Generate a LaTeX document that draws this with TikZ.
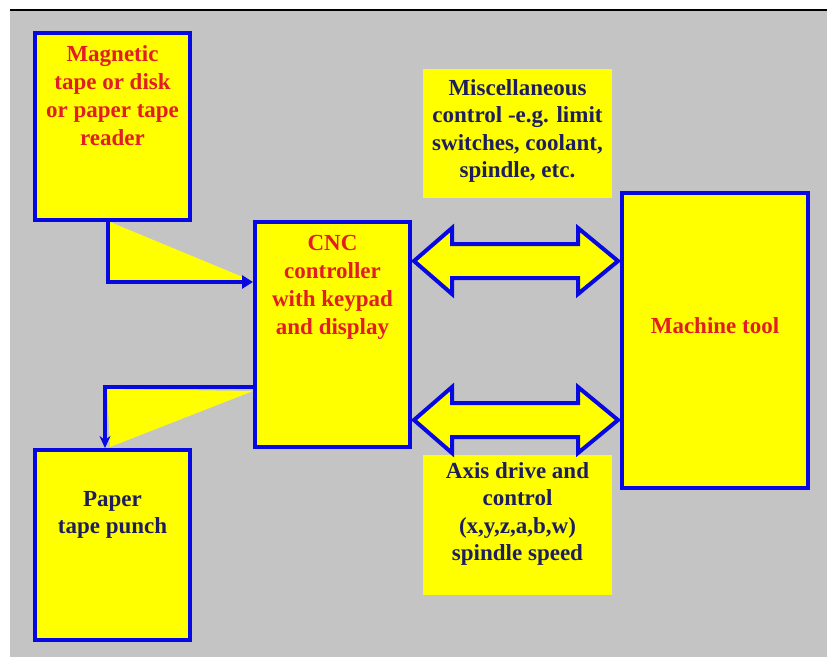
\documentclass[tikz,border=0pt]{standalone}
\usepackage{fontspec}
\setmainfont{Liberation Serif}
\usetikzlibrary{arrows.meta,positioning}
\definecolor{padyellow}{RGB}{255,255,0}
\definecolor{edgeblue}{RGB}{8,8,225}
\definecolor{txtred}{RGB}{225,30,35}
\definecolor{txtnavy}{RGB}{30,30,95}
\definecolor{slidegrey}{RGB}{196,196,196}
\tikzset{
  unitbox/.style={draw=edgeblue, line width=4pt, fill=padyellow, inner sep=0pt},
  notebox/.style={fill=padyellow, inner sep=0pt},
  redtxt/.style={text=txtred, font=\bfseries\fontsize{23}{28}\selectfont, align=center, inner sep=0pt, anchor=north},
  navytxt/.style={text=txtnavy, font=\bfseries\fontsize{23}{27.5}\selectfont, align=center, inner sep=0pt, anchor=north},
  link/.style={draw=edgeblue, line width=4pt},
  bigarrow/.style={draw=edgeblue, line width=4pt, fill=padyellow, line join=miter}
}
\begin{document}
\begin{tikzpicture}[x=1pt, y=-1pt]
  \useasboundingbox (0,0) rectangle (827,657);
  \fill[white] (0,0) rectangle (827,657);
  \fill[slidegrey] (10,11) rectangle (827,657);
  \draw[black, line width=2pt] (10,10) -- (827,10);
  % blocks
  \node[unitbox, minimum width=155pt, minimum height=187pt] (reader) at (112.5,126.5) {};
  \node[unitbox, minimum width=155pt, minimum height=225pt] (cnc) at (332.5,334.5) {};
  \node[unitbox, minimum width=155pt, minimum height=190pt] (punch) at (112.5,545) {};
  \node[unitbox, minimum width=186pt, minimum height=295pt] (machine) at (715,340.5) {};
  \node[notebox, minimum width=189pt, minimum height=129pt] (misc) at (517.5,133.5) {};
  \node[notebox, minimum width=189pt, minimum height=140pt] (axis) at (517.5,525) {};
  % texts
  \node[redtxt] (readertxt) at (112.5,45) {Magnetic\\tape or disk\\or paper tape\\reader};
  \node[redtxt] (cnctxt) at (332.5,235) {CNC\\controller\\with keypad\\and display};
  \node[redtxt] (machinetxt) at (715,317) {Machine tool};
  \node[navytxt] (punchtxt) at (112.5,491) {Paper\\tape punch};
  \node[navytxt] (misctxt) at (517.5,79) {Miscellaneous\\control -e.g. limit\\switches, coolant,\\spindle, etc.};
  \node[navytxt] (axistxt) at (517.5,462) {Axis drive and\\control\\(x,y,z,a,b,w)\\spindle speed};
  % connectors
  \coordinate (rdout) at (108,222);
  \coordinate (cncin) at (cnc.west |- 0,282);
  \coordinate (cncout) at (cnc.west |- 0,387);
  \coordinate (pnin) at (105,448);
  \fill[padyellow] (110,222) -- (110,280) -- (250,280) -- cycle;
  \fill[padyellow] (107,389) -- (253,391) -- (110,447) -- cycle;
  \draw[link, -{Triangle[length=11pt,width=13pt]}] (rdout) |- (cncin);
  \draw[link, -{Stealth[length=12pt,width=11pt]}] (cncout) -| (pnin);
  % double arrows
  \draw[bigarrow] (414,261) -- ++(38,-33) -- ++(0,16) -- ++(126,0) -- ++(0,-16) -- ++(40,33)
    -- ++(-40,33) -- ++(0,-16) -- ++(-126,0) -- ++(0,16) -- cycle;
  \draw[bigarrow] (414,420) -- ++(38,-33) -- ++(0,16) -- ++(126,0) -- ++(0,-16) -- ++(40,33)
    -- ++(-40,33) -- ++(0,-16) -- ++(-126,0) -- ++(0,16) -- cycle;
\end{tikzpicture}
\end{document}
